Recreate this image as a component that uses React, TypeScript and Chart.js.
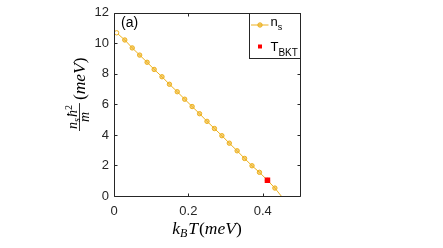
import React, { useEffect, useRef } from "react";
import { Chart, registerables } from "chart.js";
Chart.register(...registerables);

// n_s curve (k_B T in meV, n_s ħ²/m in meV)
const nsT = [0.007, 0.029, 0.049, 0.069, 0.089, 0.108, 0.129, 0.149, 0.170, 0.190, 0.210, 0.230, 0.250, 0.270, 0.290, 0.310, 0.331, 0.351, 0.371, 0.391, 0.4125, 0.4325, 0.4495];
const nsVal = [10.69, 10.22, 9.70, 9.23, 8.76, 8.29, 7.81, 7.32, 6.83, 6.34, 5.86, 5.39, 4.89, 4.42, 3.95, 3.46, 2.96, 2.46, 1.98, 1.55, 1.03, 0.52, 0];
// BKT transition point
const bktT = [0.4125];
const bktVal = [1.03];

const xTicks = [0, 0.2, 0.4];
const yTicks = [0, 2, 4, 6, 8, 10, 12];

const GOLD = "#EDB120";
const AX = "#262626";
const SERIF = '"Liberation Serif", "Times New Roman", serif';
const SANS = '"Liberation Sans", Arial, sans-serif';

type Seg = { t: string; f: string; dy?: number; gap?: number };

function segWidth(ctx: CanvasRenderingContext2D, segs: Seg[]) {
  let w = 0;
  for (const s of segs) {
    ctx.font = s.f;
    w += ctx.measureText(s.t).width + (s.gap || 0);
  }
  return w;
}
function drawSegs(ctx: CanvasRenderingContext2D, segs: Seg[], x: number, y: number) {
  let cx = x;
  for (const s of segs) {
    ctx.font = s.f;
    ctx.fillText(s.t, cx, y + (s.dy || 0));
    cx += ctx.measureText(s.t).width + (s.gap || 0);
  }
  return cx;
}

const decor = {
  id: "decor",
  afterDraw(chart: any) {
    const { ctx, chartArea: a, scales } = chart;
    const xs = scales.x;
    const ys = scales.y;
    ctx.save();
    ctx.strokeStyle = AX;
    ctx.lineWidth = 1;
    const L = Math.round(a.left) + 0.5;
    const R = Math.round(a.right) + 0.5;
    const T = Math.round(a.top) + 0.5;
    const B = Math.round(a.bottom) + 0.5;
    ctx.beginPath();
    ctx.rect(L, T, R - L, B - T);
    // inward ticks
    const tl = 3;
    for (const v of yTicks) {
      const p = Math.round(ys.getPixelForValue(v)) + 0.5;
      ctx.moveTo(L, p); ctx.lineTo(L + tl, p);
      ctx.moveTo(R, p); ctx.lineTo(R - tl, p);
    }
    for (const v of xTicks) {
      const p = Math.round(xs.getPixelForValue(v)) + 0.5;
      ctx.moveTo(p, B); ctx.lineTo(p, B - tl);
      ctx.moveTo(p, T); ctx.lineTo(p, T + tl);
    }
    ctx.stroke();

    // panel label
    ctx.fillStyle = "#000";
    ctx.font = `14px ${SANS}`;
    ctx.textAlign = "left";
    ctx.textBaseline = "alphabetic";
    ctx.fillText("(a)", a.left + 7, a.top + 14);

    // legend
    const lx = R - 51;
    const ly = T;
    ctx.fillStyle = "#fff";
    ctx.fillRect(lx, ly, R - lx, 45);
    ctx.strokeStyle = AX;
    ctx.strokeRect(lx, ly, R - lx, 45);
    ctx.strokeStyle = GOLD;
    ctx.lineWidth = 1;
    ctx.beginPath();
    ctx.moveTo(lx + 1.5, ly + 11.5);
    ctx.lineTo(lx + 19, ly + 11.5);
    ctx.stroke();
    ctx.beginPath();
    ctx.arc(lx + 10.5, ly + 11.5, 2.2, 0, Math.PI * 2);
    ctx.fillStyle = "rgba(237,177,32,0.6)";
    ctx.fill();
    ctx.stroke();
    ctx.fillStyle = "red";
    ctx.fillRect(lx + 8.5, ly + 31, 4, 4);
    ctx.fillStyle = "#000";
    drawSegs(ctx, [
      { t: "n", f: `13px ${SANS}` },
      { t: "s", f: `9px ${SANS}`, dy: 4 },
    ], lx + 21, ly + 12.5);
    drawSegs(ctx, [
      { t: "T", f: `13px ${SANS}` },
      { t: "BKT", f: `10px ${SANS}`, dy: 5 },
    ], lx + 21, ly + 37.5);

    // x axis title: k_B T (meV)
    ctx.fillStyle = "#000";
    const it = `italic 17.5px ${SERIF}`;
    const up = `17.5px ${SERIF}`;
    const xsegs: Seg[] = [
      { t: "k", f: it },
      { t: "B", f: `italic 12px ${SERIF}`, dy: 3, gap: 1 },
      { t: "T", f: it, gap: 1 },
      { t: "(", f: up },
      { t: "meV", f: it },
      { t: ")", f: up },
    ];
    const w = segWidth(ctx, xsegs);
    drawSegs(ctx, xsegs, (a.left + a.right) / 2 - w / 2, 234);

    // y axis title: n_s ħ^2 / m (meV), rotated
    ctx.save();
    ctx.translate(85, 131);
    ctx.rotate(-Math.PI / 2);
    const num: Seg[] = [
      { t: "n", f: `italic 14px ${SERIF}` },
      { t: "s", f: `italic 10px ${SERIF}`, dy: 3, gap: 1 },
      { t: "ħ", f: `italic 14px ${SERIF}` },
      { t: "2", f: `10px ${SERIF}`, dy: -5 },
    ];
    const nw = segWidth(ctx, num);
    drawSegs(ctx, num, 2, -8.5);
    ctx.fillRect(0, -6, nw + 4, 0.8);
    ctx.font = `italic 14px ${SERIF}`;
    const mw = ctx.measureText("m").width;
    ctx.fillText("m", (nw + 4) / 2 - mw / 2, 4);
    drawSegs(ctx, [
      { t: "(", f: up },
      { t: "meV", f: it },
      { t: ")", f: up },
    ], nw + 7, 0);
    ctx.restore();

    ctx.restore();
  },
};

export default function App() {
  const ref = useRef<HTMLCanvasElement | null>(null);
  useEffect(() => {
    if (!ref.current) return;
    const ptBg = nsVal.map((_, i) => (i === 0 ? "#ffffff" : "rgba(237,177,32,0.6)"));
    const ptR = nsVal.map((_, i) => (i === nsVal.length - 1 ? 0 : 2.2));
    const chart = new Chart(ref.current, {
      type: "line",
      data: {
        datasets: [
          {
            label: "T_BKT",
            data: bktT.map((t, i) => ({ x: t, y: bktVal[i] })),
            showLine: false,
            pointStyle: "rect",
            pointRadius: 3.9,
            pointBorderWidth: 0,
            backgroundColor: "red",
            borderColor: "red",
            order: 0,
          },
          {
            label: "n_s",
            data: nsT.map((t, i) => ({ x: t, y: nsVal[i] })),
            borderColor: GOLD,
            borderWidth: 1,
            pointRadius: ptR,
            pointBorderWidth: 1,
            pointBackgroundColor: ptBg,
            pointBorderColor: GOLD,
            tension: 0,
            order: 1,
          },
        ],
      },
      options: {
        responsive: false,
        animation: false,
        devicePixelRatio: 1,
        layout: { padding: { left: 0, right: 143, top: 10, bottom: 0 } },
        plugins: { legend: { display: false }, tooltip: { enabled: false } },
        scales: {
          x: {
            type: "linear",
            min: 0,
            max: 0.5,
            afterBuildTicks: (s: any) => {
              s.ticks = xTicks.map((v) => ({ value: v }));
            },
            afterFit: (s: any) => {
              s.height = 52;
            },
            grid: { display: false, drawTicks: false },
            border: { display: false },
            ticks: {
              color: AX,
              font: { family: SANS, size: 13 },
              padding: 8,
              maxRotation: 0,
              callback: (v: any) => String(v),
            },
          },
          y: {
            type: "linear",
            min: 0,
            max: 12,
            afterBuildTicks: (s: any) => {
              s.ticks = yTicks.map((v) => ({ value: v }));
            },
            afterFit: (s: any) => {
              s.width = 114;
            },
            grid: { display: false, drawTicks: false },
            border: { display: false },
            ticks: {
              color: AX,
              font: { family: SANS, size: 13 },
              padding: 5,
              callback: (v: any) => String(v),
            },
          },
        },
      },
      plugins: [decor],
    } as any);
    return () => chart.destroy();
  }, []);
  return (
    <div style={{ position: "fixed", left: 0, top: 0, width: 443, height: 248, background: "#fff" }}>
      <canvas ref={ref} width={443} height={248} style={{ display: "block" }} />
    </div>
  );
}
